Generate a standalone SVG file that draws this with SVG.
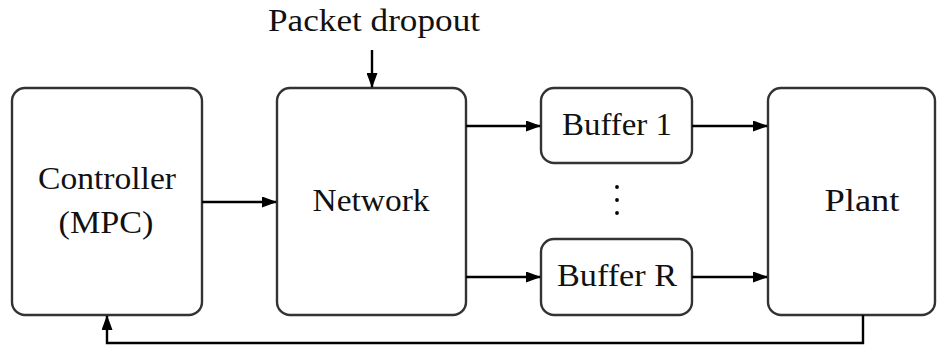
<svg xmlns="http://www.w3.org/2000/svg" width="947" height="356" viewBox="0 0 947 356">
<style>
.box{fill:#fff;stroke:#333;stroke-width:2.4}
.t{font-family:"Liberation Serif","Times New Roman",serif;font-size:31px;fill:#111;text-anchor:middle}
.c{fill:none;stroke:#000;stroke-width:2.4}
</style>
<defs>
<marker id="ah" markerWidth="15" markerHeight="11" refX="14" refY="5.5" orient="auto" markerUnits="userSpaceOnUse">
<path d="M0,0 L15,5.5 L0,11 Z" fill="#000"/>
</marker>
</defs>
<g id="controller"><rect class="box" x="12" y="88" width="190" height="227" rx="13"/>
<text class="t" x="107" y="189" textLength="138" lengthAdjust="spacingAndGlyphs">Controller</text>
<text class="t" x="106" y="233" textLength="95" lengthAdjust="spacingAndGlyphs">(MPC)</text></g>
<g id="network"><rect class="box" x="277" y="88" width="189" height="227" rx="13"/>
<text class="t" x="371" y="211" textLength="117" lengthAdjust="spacingAndGlyphs">Network</text></g>
<g id="buffer1"><rect class="box" x="541" y="88" width="151" height="75" rx="13"/>
<text class="t" x="617" y="135" textLength="110" lengthAdjust="spacingAndGlyphs">Buffer 1</text></g>
<g id="bufferR"><rect class="box" x="541" y="239" width="151" height="76" rx="13"/>
<text class="t" x="617" y="286" textLength="120" lengthAdjust="spacingAndGlyphs">Buffer R</text></g>
<g id="plant"><rect class="box" x="768" y="88" width="167" height="227" rx="13"/>
<text class="t" x="862" y="211" textLength="75" lengthAdjust="spacingAndGlyphs">Plant</text></g>
<g id="dots" fill="#000"><circle cx="617" cy="187" r="1.9"/><circle cx="617" cy="200" r="1.9"/><circle cx="617" cy="213" r="1.9"/></g>
<g id="label"><text class="t" x="374" y="31" textLength="212" lengthAdjust="spacingAndGlyphs">Packet dropout</text></g>
<g id="connectors">
<path class="c" d="M372,50 V87" marker-end="url(#ah)"/>
<path class="c" d="M202,202 H276" marker-end="url(#ah)"/>
<path class="c" d="M466,126 H540" marker-end="url(#ah)"/>
<path class="c" d="M466,277 H540" marker-end="url(#ah)"/>
<path class="c" d="M692,126 H767" marker-end="url(#ah)"/>
<path class="c" d="M692,277 H767" marker-end="url(#ah)"/>
<path class="c" d="M863,315 V343 H107 V316" marker-end="url(#ah)"/>
</g>
</svg>
